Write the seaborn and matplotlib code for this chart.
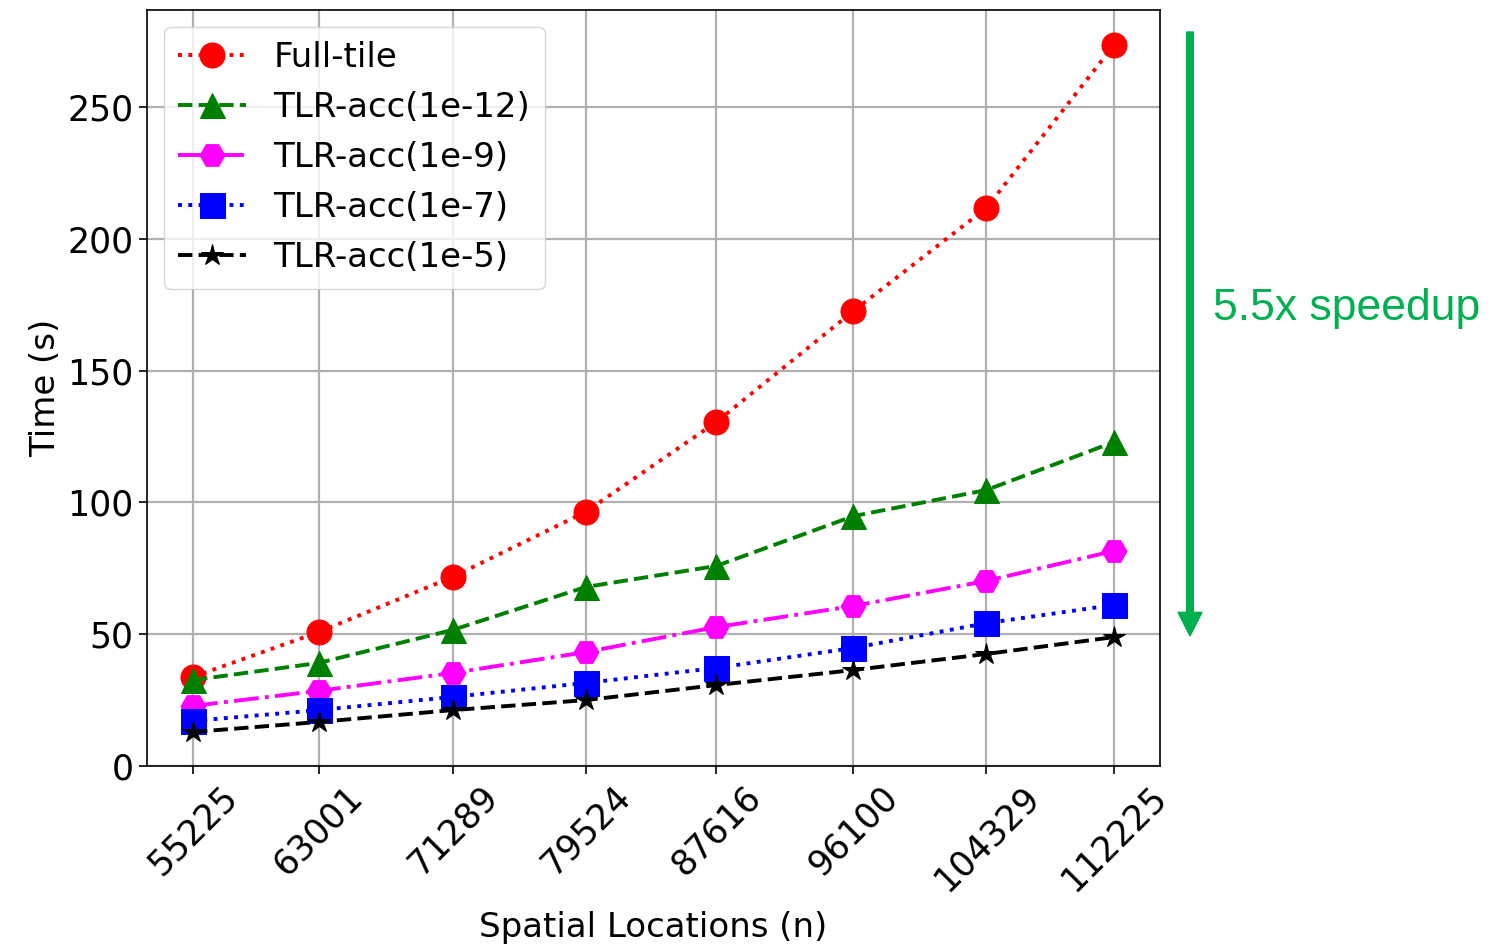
import matplotlib
matplotlib.use("Agg")
import matplotlib.pyplot as plt
import seaborn as sns
import pandas as pd

n_values = [55225, 63001, 71289, 79524, 87616, 96100, 104329, 112225]
full_tile = [33.8, 50.8, 71.7, 96.4, 130.5, 172.6, 211.7, 273.5]
tlr_1e12 = [32.6, 39.1, 51.6, 67.9, 75.9, 94.8, 104.7, 122.9]
tlr_1e9 = [22.8, 28.5, 35.3, 43.2, 52.7, 60.7, 70.2, 81.6]
tlr_1e7 = [17.1, 21.2, 26.2, 31.5, 37.2, 44.8, 54.2, 61.1]
tlr_1e5 = [12.9, 16.7, 21.2, 25.0, 30.7, 36.4, 42.5, 48.9]

series_names = ["Full-tile", "TLR-acc(1e-12)", "TLR-acc(1e-9)", "TLR-acc(1e-7)", "TLR-acc(1e-5)"]
series_values = [full_tile, tlr_1e12, tlr_1e9, tlr_1e7, tlr_1e5]
colors = ["red", "green", "magenta", "blue", "black"]
markers = ["o", "^", "H", "s", "*"]
linestyles = [":", "--", "-.", ":", "--"]
msizes = [18, 18, 18, 18, 16]

sns.set_style("ticks")
plt.rcParams['font.family'] = ['DejaVu Sans']
plt.rcParams['text.color'] = 'black'
plt.rcParams['axes.labelcolor'] = 'black'
plt.rcParams['xtick.color'] = 'black'
plt.rcParams['ytick.color'] = 'black'

fig = plt.figure(figsize=(14.94, 9.46), dpi=100)
ax = fig.add_axes([147/1494, 1-766/946, (1160-147)/1494, (766-10)/946])

for name, vals, c, m, ls, ms in zip(series_names, series_values, colors, markers, linestyles, msizes):
    df = pd.DataFrame({"n": n_values, "t": vals})
    sns.lineplot(data=df, x="n", y="t", ax=ax, color=c, marker=m, linestyle=ls,
                 markersize=ms, linewidth=2.8, markeredgecolor=c, label=name)

ax.set_ylim(0, 286.8)
ax.set_xlim(52375, 115075)
ax.set_xticks(n_values)
ax.set_xticklabels([str(v) for v in n_values], rotation=45, fontsize=25)
ax.set_yticks([0, 50, 100, 150, 200, 250])
ax.tick_params(axis='y', labelsize=25)
ax.tick_params(axis='both', length=6, width=1.2, colors='black')
ax.grid(True, color='#b0b0b0', linewidth=1.6)
for sp in ax.spines.values():
    sp.set_visible(True)
    sp.set_color('black')
    sp.set_linewidth(1.2)
ax.set_xlabel("Spatial Locations (n)", fontsize=24.5, color='black', labelpad=10)
ax.set_ylabel("Time (s)", fontsize=24.5, color='black')
ax.legend(loc="upper left", fontsize=24.5, borderpad=0.42, labelspacing=0.5)

fig.patches.append(matplotlib.patches.FancyArrow(
    1190/1494, 1-32/946, 0, -(636-32)/946 + 0.025, width=0.0045,
    head_width=0.016, head_length=0.025, length_includes_head=False,
    color="#00B050", transform=fig.transFigure, figure=fig))
fig.text(1213/1494, 1-308/946, "5.5x speedup", color="#00B050", fontsize=32,
         family=["Liberation Sans"], va="center", ha="left")

fig.savefig("out.png", dpi=100)
